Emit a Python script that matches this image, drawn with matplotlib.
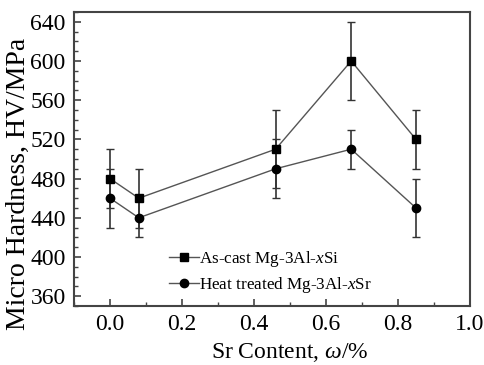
import matplotlib
matplotlib.use("Agg")
import matplotlib.pyplot as plt
from matplotlib.ticker import MultipleLocator

sr_content = [0.0, 0.08, 0.46, 0.67, 0.85]
as_cast = [480, 460, 510, 600, 520]
as_cast_err = [30, 30, 40, 40, 30]
heat_treated = [460, 440, 490, 510, 450]
heat_treated_err = [30, 20, 30, 20, 30]
label_cast = "As-cast Mg-3Al-$\\it{x}$Si"
label_heat = "Heat treated Mg-3Al-$\\it{x}$Sr"

plt.rcParams['font.family'] = ['Liberation Serif', 'DejaVu Serif']
plt.rcParams['mathtext.fontset'] = 'custom'
plt.rcParams['mathtext.it'] = 'Liberation Serif:italic'
plt.rcParams['mathtext.rm'] = 'Liberation Serif'

fig = plt.figure(figsize=(4.85, 3.65), dpi=100)
ax = fig.add_axes([74/485, 1-306/365, (470-74)/485, (306-12)/365])

line_col = '#555555'
err_col = '#333333'
ax.errorbar(sr_content, as_cast, yerr=as_cast_err, fmt='none', ecolor=err_col,
            elinewidth=1.2, capsize=3, capthick=1.0)
ax.errorbar(sr_content, heat_treated, yerr=heat_treated_err, fmt='none', ecolor=err_col,
            elinewidth=1.2, capsize=3, capthick=1.0)
ax.plot(sr_content, as_cast, color=line_col, lw=1.0, marker='s', ms=6,
        mfc='black', mec='black', label=label_cast)
ax.plot(sr_content, heat_treated, color=line_col, lw=1.0, marker='o', ms=6,
        mfc='black', mec='black', label=label_heat)

ax.set_xlim(-0.1, 1.0)
ax.set_ylim(350, 650)
ax.xaxis.set_minor_locator(MultipleLocator(0.1))
ax.yaxis.set_minor_locator(MultipleLocator(10))
ax.set_xticks([0.0, 0.2, 0.4, 0.6, 0.8, 1.0])
ax.set_xticklabels(['0.0', '0.2', '0.4', '0.6', '0.8', '1.0'])
ax.set_yticks([360, 400, 440, 480, 520, 560, 600, 640])
ax.tick_params(which='both', direction='in', top=False, right=False,
               labelsize=17, color='#444444')
ax.tick_params(which='major', length=5, width=1.2, pad=6)
ax.tick_params(which='minor', length=3, width=1.0)
for s in ax.spines.values():
    s.set_color('#444444')
    s.set_linewidth(1.5)

ax.set_xlabel("Sr Content, $\\it{\\omega}$/%", fontsize=17)
ax.set_ylabel("Micro Hardness, HV/MPa", fontsize=20)
ax.xaxis.set_label_coords(0.544, -0.118)
ax.yaxis.set_label_coords(-0.11, 0.415)

ax.legend(loc='lower left', bbox_to_anchor=(0.2, -0.014), frameon=False,
          fontsize=12.3, handlelength=1.8, handletextpad=0.0, labelspacing=0.36)

fig.savefig("out.png", dpi=100)
